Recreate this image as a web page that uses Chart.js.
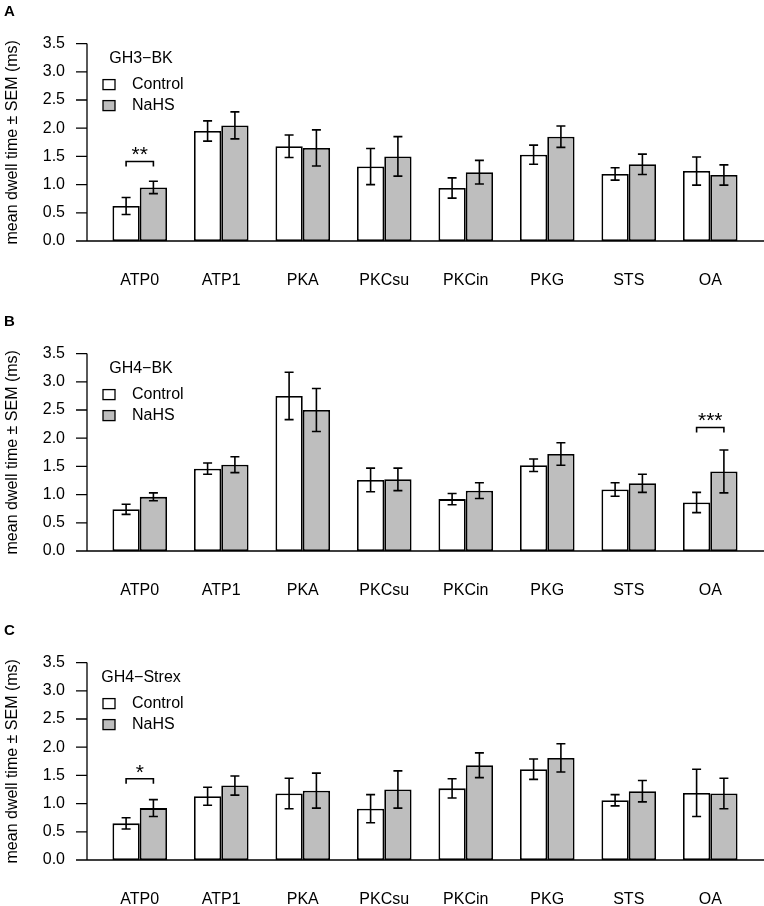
<!DOCTYPE html>
<html>
<head>
<meta charset="utf-8">
<script src="https://cdn.jsdelivr.net/npm/chart.js@4"></script>
<style>
  body { margin: 0; width: 764px; height: 906px; background: #fff; position: relative; overflow: hidden; }
  canvas { position: absolute; left: 0; }
</style>
</head>
<body>
<canvas id="chartA" width="764" height="287" style="top:0px"></canvas>
<canvas id="chartB" width="764" height="287" style="top:310px"></canvas>
<canvas id="chartC" width="764" height="287" style="top:619px"></canvas>
<script>
const categories = ['ATP0', 'ATP1', 'PKA', 'PKCsu', 'PKCin', 'PKG', 'STS', 'OA'];
const yTicks = [0, 0.5, 1.0, 1.5, 2.0, 2.5, 3.0, 3.5];
const seriesNames = ['Control', 'NaHS'];

// panel A: GH3-BK
const ctrlA = [0.62, 1.95, 1.68, 1.32, 0.94, 1.53, 1.19, 1.24];
const ctrlSemA = [0.15, 0.18, 0.20, 0.32, 0.18, 0.17, 0.11, 0.25];
const nahsA = [0.95, 2.05, 1.65, 1.50, 1.22, 1.85, 1.36, 1.17];
const nahsSemA = [0.11, 0.24, 0.32, 0.35, 0.21, 0.19, 0.18, 0.18];

// panel B: GH4-BK
const ctrlB = [0.74, 1.46, 2.75, 1.26, 0.92, 1.52, 1.09, 0.86];
const ctrlSemB = [0.09, 0.10, 0.42, 0.21, 0.10, 0.11, 0.12, 0.18];
const nahsB = [0.96, 1.53, 2.50, 1.27, 1.07, 1.72, 1.20, 1.41];
const nahsSemB = [0.07, 0.14, 0.38, 0.20, 0.14, 0.20, 0.16, 0.38];

// panel C: GH4-Strex
const ctrlC = [0.65, 1.13, 1.18, 0.91, 1.27, 1.61, 1.06, 1.19];
const ctrlSemC = [0.10, 0.16, 0.27, 0.25, 0.17, 0.18, 0.10, 0.42];
const nahsC = [0.92, 1.32, 1.23, 1.25, 1.68, 1.81, 1.22, 1.18];
const nahsSemC = [0.15, 0.17, 0.31, 0.33, 0.22, 0.25, 0.19, 0.27];

// significance markers: category index, stars, bracket height
const sigA = [0, '**', 1.41];
const sigB = [7, '***', 2.19];
const sigC = [0, '*', 1.44];

const FONT = "'Liberation Sans', Arial, Helvetica, sans-serif";

const extrasPlugin = {
    id: 'extras',
    afterDatasetsDraw(chart, args, opts) {
        const ctx = chart.ctx;
        const y = chart.scales.y;
        const area = chart.chartArea;
        ctx.save();
        ctx.strokeStyle = '#000';
        ctx.fillStyle = '#000';

        // error bars
        ctx.lineWidth = 1.6;
        chart.data.datasets.forEach((ds, i) => {
            chart.getDatasetMeta(i).data.forEach((bar, j) => {
                const top = y.getPixelForValue(ds.data[j] + ds.sem[j]);
                const bot = y.getPixelForValue(ds.data[j] - ds.sem[j]);
                ctx.beginPath();
                ctx.moveTo(bar.x, top); ctx.lineTo(bar.x, bot);
                ctx.moveTo(bar.x - 4.5, top); ctx.lineTo(bar.x + 4.5, top);
                ctx.moveTo(bar.x - 4.5, bot); ctx.lineTo(bar.x + 4.5, bot);
                ctx.stroke();
            });
        });

        // axis lines
        const ax = area.left - 12;
        const y0 = y.getPixelForValue(0);
        ctx.lineWidth = 1.3;
        ctx.beginPath();
        ctx.moveTo(ax, y.getPixelForValue(yTicks[yTicks.length - 1]));
        ctx.lineTo(ax, y0);
        yTicks.forEach(t => {
            const ty = y.getPixelForValue(t);
            ctx.moveTo(ax - 11, ty); ctx.lineTo(ax, ty);
        });
        ctx.moveTo(ax - 11, y0); ctx.lineTo(area.right + 13, y0);
        ctx.stroke();

        // significance bracket
        const [idx, stars, h] = opts.sig;
        const x1 = chart.getDatasetMeta(0).data[idx].x;
        const x2 = chart.getDatasetMeta(1).data[idx].x;
        const by = y.getPixelForValue(h);
        ctx.lineWidth = 1.6;
        ctx.beginPath();
        ctx.moveTo(x1, by + 5); ctx.lineTo(x1, by); ctx.lineTo(x2, by); ctx.lineTo(x2, by + 5);
        ctx.stroke();
        ctx.font = '21px ' + FONT;
        ctx.textAlign = 'center';
        ctx.textBaseline = 'middle';
        ctx.fillText(stars, (x1 + x2) / 2, by - 6);

        // legend
        ctx.font = '16px ' + FONT;
        ctx.textAlign = 'center';
        ctx.fillText(opts.group, area.left + 42, area.top + 15);
        ctx.textAlign = 'left';
        chart.data.datasets.forEach((ds, i) => {
            const ly = area.top + 41 + i * 21;
            ctx.fillStyle = ds.backgroundColor;
            ctx.fillRect(area.left + 4, ly - 5, 12, 10);
            ctx.lineWidth = 1.3;
            ctx.strokeRect(area.left + 4, ly - 5, 12, 10);
            ctx.fillStyle = '#000';
            ctx.fillText(ds.label, area.left + 33, ly);
        });

        // panel letter
        ctx.font = 'bold 15px ' + FONT;
        ctx.fillText(opts.letter, 4, 12);
        ctx.restore();
    }
};

function makePanel(id, letter, group, ctrl, ctrlSem, nahs, nahsSem, sig) {
    new Chart(document.getElementById(id), {
        type: 'bar',
        data: {
            labels: categories,
            datasets: [
                {
                    label: seriesNames[0],
                    data: ctrl,
                    sem: ctrlSem,
                    backgroundColor: '#ffffff',
                    borderColor: '#000000',
                    borderWidth: 1.8,
                    borderSkipped: false
                },
                {
                    label: seriesNames[1],
                    data: nahs,
                    sem: nahsSem,
                    backgroundColor: '#bebebe',
                    borderColor: '#000000',
                    borderWidth: 1.8,
                    borderSkipped: false
                }
            ]
        },
        options: {
            responsive: false,
            animation: false,
            layout: { padding: { top: 42, right: 13, left: 0, bottom: 0 } },
            datasets: { bar: { categoryPercentage: 0.67, barPercentage: 1.0 } },
            scales: {
                x: {
                    grid: { display: false, drawTicks: false },
                    border: { display: false },
                    ticks: { padding: 30, color: '#000', font: { family: FONT, size: 16 } },
                    afterFit: s => { s.height = 46; }
                },
                y: {
                    min: 0,
                    max: 3.5,
                    afterBuildTicks: s => { s.ticks = yTicks.map(v => ({ value: v })); },
                    grid: { display: false, drawTicks: false },
                    border: { display: false },
                    ticks: {
                        padding: 34,
                        color: '#000',
                        font: { family: FONT, size: 16 },
                        callback: v => Number(v).toFixed(1)
                    },
                    title: {
                        display: true,
                        text: 'mean dwell time ± SEM (ms)',
                        color: '#000',
                        font: { family: FONT, size: 16 },
                        padding: { top: 3, bottom: 0 }
                    },
                    afterFit: s => { s.width = 99; }
                }
            },
            plugins: {
                legend: { display: false },
                tooltip: { enabled: false },
                extras: { letter: letter, group: group, sig: sig }
            }
        },
        plugins: [extrasPlugin]
    });
}

makePanel('chartA', 'A', 'GH3\u2212BK', ctrlA, ctrlSemA, nahsA, nahsSemA, sigA);
makePanel('chartB', 'B', 'GH4\u2212BK', ctrlB, ctrlSemB, nahsB, nahsSemB, sigB);
makePanel('chartC', 'C', 'GH4\u2212Strex', ctrlC, ctrlSemC, nahsC, nahsSemC, sigC);
</script>
</body>
</html>
